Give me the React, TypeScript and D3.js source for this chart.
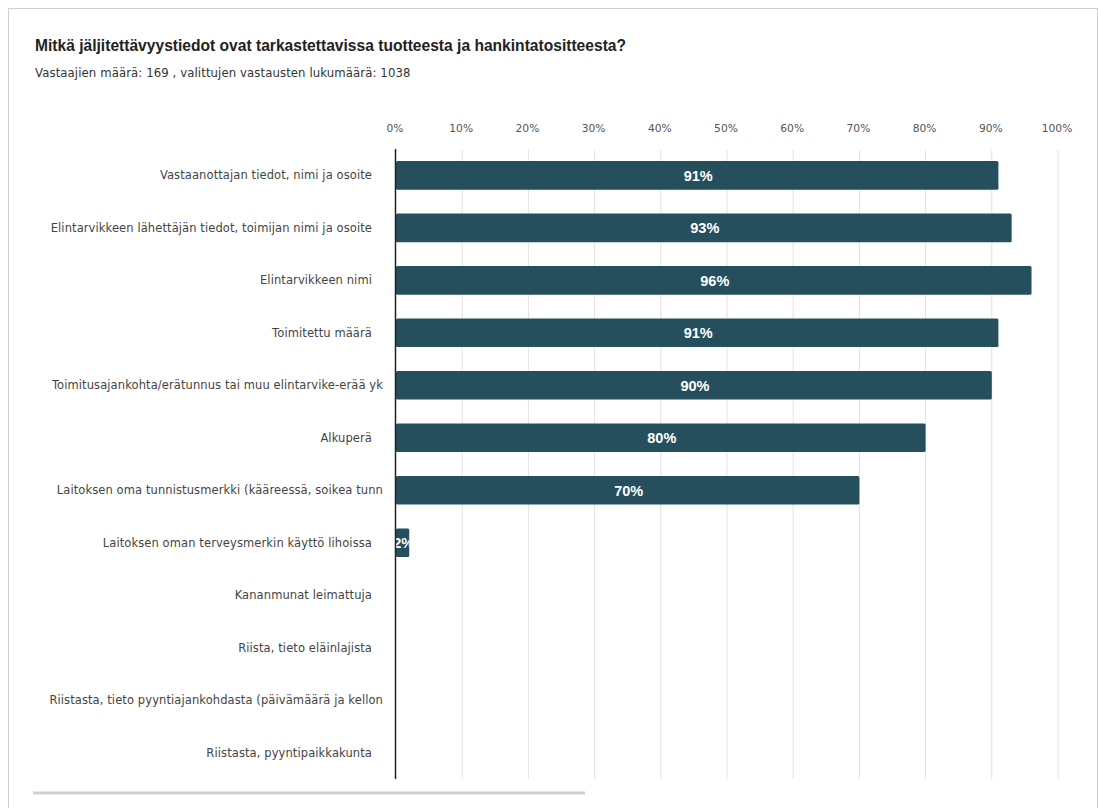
import React from "react";
import * as d3 from "d3";

const title = "Mitkä jäljitettävyystiedot ovat tarkastettavissa tuotteesta ja hankintatositteesta?";
const subtitle = "Vastaajien määrä: 169 , valittujen vastausten lukumäärä: 1038";

const categories = [
  "Vastaanottajan tiedot, nimi ja osoite",
  "Elintarvikkeen lähettäjän tiedot, toimijan nimi ja osoite",
  "Elintarvikkeen nimi",
  "Toimitettu määrä",
  "Toimitusajankohta/erätunnus tai muu elintarvike-erää yk",
  "Alkuperä",
  "Laitoksen oma tunnistusmerkki (kääreessä, soikea tunn",
  "Laitoksen oman terveysmerkin käyttö lihoissa",
  "Kananmunat leimattuja",
  "Riista, tieto eläinlajista",
  "Riistasta, tieto pyyntiajankohdasta (päivämäärä ja kellon",
  "Riistasta, pyyntipaikkakunta",
];
const truncated = [false, false, false, false, true, false, true, false, false, false, true, false];
const values = [91, 93, 96, 91, 90, 80, 70, 2, 0, 0, 0, 0];
const ticks = [0, 10, 20, 30, 40, 50, 60, 70, 80, 90, 100];

const W = 1098;
const H = 808;
const ARIAL = "Arial, 'Liberation Sans', sans-serif";
const VERD = "Verdana, 'DejaVu Sans', sans-serif";

export default function App() {
  const x = d3.scaleLinear().domain([0, 100]).range([396, 1058]);
  const y = d3.scaleBand<string>().domain(categories).range([149, 779]).paddingInner(0.455).paddingOuter(0.23);
  const bh = y.bandwidth();
  return (
    <div style={{ position: "absolute", left: 0, top: 0 }}>
      <svg width={W} height={H} style={{ display: "block", background: "#fff" }}>
        <defs>
          {categories.map((c, i) => (
            <clipPath id={`clip${i}`} key={c}>
              <rect x={x(0)} y={y(c)!} width={x(values[i]) - x(0)} height={bh} />
            </clipPath>
          ))}
        </defs>
        <rect x={8.5} y={8.5} width={1089} height={810} fill="#fff" stroke="#cfcfcf" strokeWidth={1} />
        <text x={35} y={51} fontFamily={ARIAL} fontSize={15.6} fontWeight="bold" fill="#222">{title}</text>
        <text x={35} y={77} fontFamily={VERD} fontSize={11.7} fill="#333" letterSpacing={0.1}>{subtitle}</text>
        {ticks.map((t) => (
          <g key={t}>
            {t > 0 && (
              <line x1={x(t)} x2={x(t)} y1={150} y2={779} stroke="#e2e2e2" strokeWidth={1} />
            )}
            <text x={x(t) - 1} y={132} textAnchor="middle" fontFamily={VERD} fontSize={10.7} fill="#555">
              {t}%
            </text>
          </g>
        ))}
        {categories.map((c, i) => {
          const yy = y(c)!;
          const w = x(values[i]) - x(0);
          return (
            <g key={c}>
              <text
                x={truncated[i] ? 383 : 372}
                y={yy + bh / 2 + 4}
                textAnchor="end"
                fontFamily={VERD}
                fontSize={11.5}
                letterSpacing={0.1}
                fill="#444"
              >
                {c}
              </text>
              {values[i] > 0 && (
                <>
                  <rect x={x(0)} y={yy} width={w} height={bh} fill="#264f5d" rx={1.5} />
                  <text
                    x={x(0) + w / 2 + 1}
                    y={yy + bh / 2 + 5.5}
                    textAnchor="middle"
                    fontFamily={ARIAL}
                    fontSize={14.5}
                    fontWeight="bold"
                    fill="#fff"
                    clipPath={`url(#clip${i})`}
                  >
                    {values[i]}%
                  </text>
                </>
              )}
            </g>
          );
        })}
        <line x1={395.5} x2={395.5} y1={149} y2={779} stroke="#222" strokeWidth={1.5} />
        <line x1={33} x2={585} y1={793} y2={793} stroke="#cfcfcf" strokeWidth={3} />
      </svg>
    </div>
  );
}
